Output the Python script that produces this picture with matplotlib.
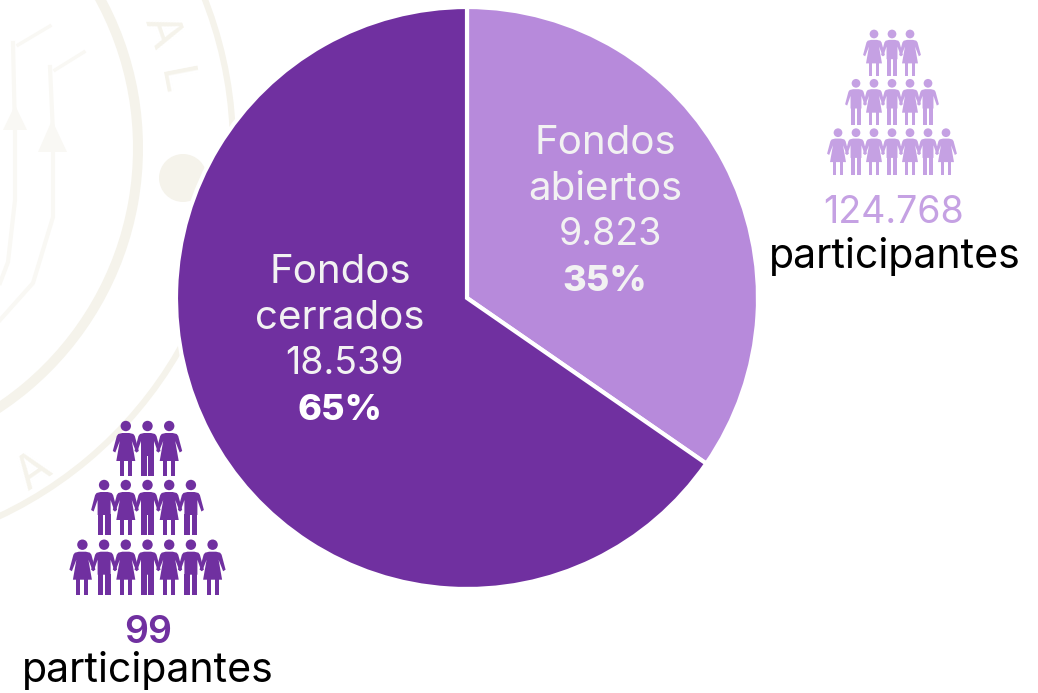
import matplotlib
matplotlib.use("Agg")
import matplotlib.pyplot as plt
from matplotlib.patches import Arc, Circle, Polygon, Rectangle

W, H = 1038, 693

# chart data
fund_names = [["Fondos", "abiertos"], ["Fondos", "cerrados"]]
fund_amounts = [9823, 18539]
fund_amount_labels = ["9.823", "18.539"]
fund_percents = ["35%", "65%"]
participants = ["124.768", "99"]

DARK = "#7030A0"
LIGHT = "#B78ADB"
PALE = "#C5A1E3"
SEAL = "#F5F3EB"
SEAL_THIN = "#F9F8F4"
FONT = "Inter"

plt.rcParams["font.family"] = [FONT, "DejaVu Sans"]


# y in the reference runs downwards, the axes run upwards
def flip(y):
    return H - y


# one person, head centre at (x, y), s = 1 makes it 50 px from head to feet
def person(ax, x, y, s, color, woman):
    ax.add_patch(Circle((x, flip(y)), 5.2 * s, fc=color, ec="none", zorder=4))
    if woman:
        body = [(-3.5, 7), (3.5, 7), (7.5, 8), (9, 10), (13, 25), (10.5, 26.5), (6, 15), (9.5, 35),
                (-9.5, 35), (-6, 15), (-10.5, 26.5), (-13, 25), (-9, 10), (-7.5, 8)]
        legs = [(-6, 4), (2, 4)]
        top = 34
    else:
        body = [(-3.5, 7), (3.5, 7), (7.5, 8), (9, 10), (13, 25), (10.5, 26.5), (6.5, 15), (6.5, 30),
                (-6.5, 30), (-6.5, 15), (-10.5, 26.5), (-13, 25), (-9, 10), (-7.5, 8)]
        legs = [(-6.5, 5.7), (0.8, 5.7)]
        top = 29
    pts = [(x + px * s, flip(y + py * s)) for px, py in body]
    ax.add_patch(Polygon(pts, closed=True, fc=color, ec="none", zorder=4))
    for lx, lw in legs:
        ax.add_patch(Rectangle((x + lx * s, flip(y + 50 * s)), lw * s, (50 - top) * s,
                               fc=color, ec="none", zorder=4))


# pyramid of 3, 5 and 7 people, women and men taking turns
def pyramid(ax, cx, ys, step, s, color):
    for n, y, first_woman in zip([3, 5, 7], ys, [True, False, True]):
        for i in range(n):
            woman = (i % 2 == 0) == first_woman
            person(ax, cx + (i - (n - 1) / 2) * step, y, s, color, woman)


def seal(ax):
    cx, cy = -174, flip(148)
    ax.add_patch(Arc((cx, cy), 624, 624, theta1=-90, theta2=70, color=SEAL, lw=7.2, zorder=1))
    ax.add_patch(Arc((cx, cy), 814, 814, theta1=-90, theta2=70, color=SEAL, lw=4.5, zorder=1))
    ax.add_patch(Circle((183, flip(178)), 24, fc=SEAL, ec="none", zorder=1))
    ax.text(160, flip(33), "A", fontsize=34, color=SEAL, rotation=-71, ha="center", va="center", zorder=1)
    ax.text(173, flip(82), "L", fontsize=34, color=SEAL, rotation=-79, ha="center", va="center", zorder=1)
    ax.text(34, flip(472), "A", fontsize=34, color=SEAL, rotation=35, ha="center", va="center", zorder=1)
    # the two stalks of the seal, with a tassel and leaves on each
    for xs, ys in [([13, 15, 15, 8, 0], [43, 133, 200, 262, 283]),
                   ([50, 53, 53, 33, 0], [67, 133, 217, 283, 320])]:
        ax.plot(xs, [flip(v) for v in ys], color=SEAL_THIN, lw=3, zorder=1)
    ax.plot([18, 50], [flip(45), flip(26)], color=SEAL_THIN, lw=2.5, zorder=1)
    ax.plot([55, 84], [flip(70), flip(52)], color=SEAL_THIN, lw=2.5, zorder=1)
    ax.add_patch(Polygon([(15, flip(105)), (27, flip(130)), (3, flip(130))], fc=SEAL_THIN, ec="none", zorder=1))
    ax.add_patch(Polygon([(52, flip(120)), (67, flip(152)), (38, flip(152))], fc=SEAL_THIN, ec="none", zorder=1))


def main():
    fig = plt.figure(figsize=(W / 100, H / 100), dpi=100)
    ax = fig.add_axes([0, 0, 1, 1])

    seal(ax)

    wedges, _ = ax.pie(fund_amounts, colors=[LIGHT, DARK], startangle=90, counterclock=False,
                       center=(467, flip(298)), radius=291,
                       wedgeprops={"edgecolor": "white", "linewidth": 3})
    for w in wedges:
        w.set_zorder(3)

    ax.set_xlim(0, W)
    ax.set_ylim(0, H)
    ax.set_aspect("equal")
    ax.axis("off")

    pyramid(ax, 892, [34, 83.3, 132.7], 18, 0.84, PALE)
    pyramid(ax, 147.5, [426, 485, 544.7], 21.7, 1.0, DARK)

    word = dict(ha="center", va="baseline", zorder=5, fontsize=29)
    num = dict(ha="center", va="baseline", zorder=5, fontsize=27)
    pct = dict(ha="center", va="baseline", zorder=5, fontsize=26, fontweight="heavy")
    soft = "#F2F2F2"

    # slice labels
    ax.text(605, flip(154), fund_names[0][0], color=soft, **word)
    ax.text(605, flip(200), fund_names[0][1], color=soft, **word)
    ax.text(610, flip(245), fund_amount_labels[0], color=soft, **num)
    ax.text(605, flip(291), fund_percents[0], color=soft, **pct)
    ax.text(340, flip(283), fund_names[1][0], color=soft, **word)
    ax.text(340, flip(329), fund_names[1][1], color=soft, **word)
    ax.text(344, flip(374), fund_amount_labels[1], color=soft, **num)
    ax.text(340, flip(420), fund_percents[1], color="white", **pct)

    # participant labels
    ax.text(894, flip(223), participants[0], color=PALE, **num)
    ax.text(895, flip(268), "participantes", color="black", ha="center", va="baseline", zorder=5, fontsize=29.6)
    ax.text(148, flip(643), participants[1], color=DARK, fontweight="semibold", **num)
    ax.text(148, flip(682), "participantes", color="black", ha="center", va="baseline", zorder=5, fontsize=29.6)

    fig.savefig("out.png", dpi=100, facecolor="white")


if __name__ == '__main__':
    main()
